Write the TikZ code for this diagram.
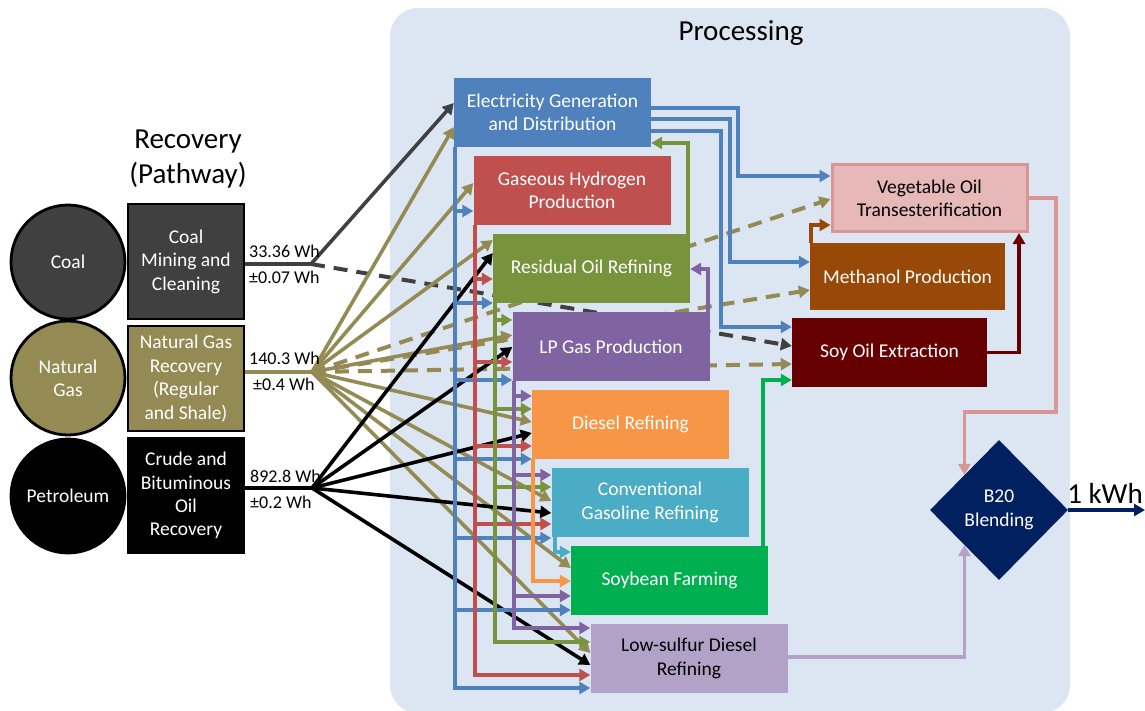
\documentclass[tikz,border=0pt]{standalone}
\usepackage{fontspec}
\setmainfont{Carlito}
\usetikzlibrary{arrows.meta,shapes.geometric}
\definecolor{bgc}{HTML}{DCE6F2}
\definecolor{coalc}{HTML}{404040}
\definecolor{ngc}{HTML}{948A54}
\definecolor{elc}{HTML}{4F81BD}
\definecolor{hyc}{HTML}{C0504D}
\definecolor{rec}{HTML}{77933C}
\definecolor{lpc}{HTML}{8064A2}
\definecolor{dsc}{HTML}{F79646}
\definecolor{cgc}{HTML}{4BACC6}
\definecolor{sfc}{HTML}{00B050}
\definecolor{lsc}{HTML}{B3A2C7}
\definecolor{vgc}{HTML}{E6B9B8}
\definecolor{vgb}{HTML}{D99694}
\definecolor{mec}{HTML}{984807}
\definecolor{soc}{HTML}{660000}
\definecolor{b2c}{HTML}{002060}
\newcommand\fbx{\fontsize{19.5}{23.4}\selectfont}
\newcommand\fttl{\fontsize{29}{34.5}\selectfont}
\newcommand\flab{\fontsize{18}{21}\selectfont}
\pgfdeclarelayer{back}
\pgfdeclarelayer{lines}
\pgfsetlayers{back,lines,main}
\begin{document}
\begin{tikzpicture}[x=1pt,y=-1pt,
 pbox/.style={minimum width=197pt,minimum height=69pt,inner sep=0pt,align=center,text=white,font=\fbx},
 rbox/.style={minimum width=195pt,inner sep=0pt,align=center,text=white,font=\fbx},
 lbox/.style={draw=black,line width=2.8pt,minimum width=116pt,inner sep=0pt,align=center,text=white,font=\fbx},
 src/.style={circle,draw=black,line width=2.8pt,minimum size=114pt,inner sep=0pt,align=center,text=white,font=\fbx},
 ar/.style={line width=3.6pt,-{Triangle[length=11pt,width=12pt]}},
 ln/.style={line width=3.6pt},
 dsh/.style={line width=4pt,dash pattern=on 14pt off 9pt,-{Triangle[length=11pt,width=12pt]}},
 lab/.style={font=\flab,anchor=west,inner sep=0pt},
]
\clip (0,0) rectangle (1145,710);
\useasboundingbox (0,0) rectangle (1145,710);
\begin{pgfonlayer}{back}
\fill[bgc,rounded corners=28pt] (390,8) rectangle (1070,713);
\end{pgfonlayer}

% titles
\node[font=\fttl,align=center] (rt) at (188,159) {Recovery\\(Pathway)};
\node[font=\fttl] (pt) at (741,33) {Processing};

% sources
\node[src,fill=coalc] (coal) at (68,262) {Coal};
\node[src,fill=ngc] (ng) at (68,378) {Natural\\Gas};
\node[src,fill=black] (pet) at (68,496) {Petroleum};
\node[lbox,fill=coalc,minimum height=115pt] (cmc) at (186,261.5) {Coal\\Mining and\\Cleaning};
\node[lbox,fill=ngc,minimum height=105pt] (ngr) at (186,378.5) {Natural Gas\\Recovery\\(Regular\\and Shale)};
\node[lbox,fill=black,minimum height=115pt] (cbo) at (186,495.5) {Crude and\\Bituminous\\Oil\\Recovery};

% labels
\node[lab] (l1) at (249,251) {33.36 Wh};
\node[lab] (l2) at (249,277) {±0.07 Wh};
\node[lab] (l3) at (249,358) {140.3 Wh};
\node[lab] (l4) at (253,384) {±0.4 Wh};
\node[lab] (l5) at (250,476) {892.8 Wh};
\node[lab] (l6) at (250,502) {±0.2 Wh};

% processing boxes
\node[pbox,fill=elc] (elec) at (552.5,112.5) {Electricity Generation\\and Distribution};
\node[pbox,fill=hyc] (hyd) at (572,190.5) {Gaseous Hydrogen\\Production};
\node[pbox,fill=rec] (res) at (591.5,268.5) {Residual Oil Refining};
\node[pbox,fill=lpc] (lpg) at (611,346.5) {LP Gas Production};
\node[pbox,fill=dsc] (dsl) at (630.5,424.5) {Diesel Refining};
\node[pbox,fill=cgc] (cgr) at (650,502.5) {Conventional\\Gasoline Refining};
\node[pbox,fill=sfc] (soy) at (669.5,580.5) {Soybean Farming};
\node[pbox,fill=lsc,text=black] (lsd) at (689,658.5) {Low-sulfur Diesel\\Refining};

\node[rbox,fill=vgc,draw=vgb,line width=3pt,minimum height=67pt,text=black] (veg) at (929.5,198) {Vegetable Oil\\Transesterification};
\node[rbox,fill=mec,minimum height=67pt] (met) at (907.5,276.5) {Methanol Production};
\node[rbox,fill=soc,minimum height=69pt] (soe) at (889.5,352.5) {Soy Oil Extraction};
\node[diamond,aspect=1,fill=b2c,minimum width=138pt,minimum height=140pt,inner sep=0pt,align=center,text=white,font=\fbx] (dia) at (999,510) {B20\\Blending};
\node[font=\fttl] (kwh) at (1105,493) {1 kWh};
\coordinate (out) at (1145,510);

\coordinate (C) at (311,264);
\coordinate (N) at (312,372);
\coordinate (P) at (312,488);

\begin{pgfonlayer}{lines}
% coal
\draw[ln,coalc] (cmc.east |- C) -- (C);
\draw[ar,coalc] (C) -- (elec.west |- 0,103);
\draw[dsh,coalc] (C) -- (soe.west |- 0,346);
% natural gas
\draw[ln,ngc] (ngr.east |- N) -- (N);
\foreach \n/\y in {elec/127,hyd/183,res/240,lpg/335,dsl/422,cgr/501,soy/568,lsd/653}
  \draw[ar,ngc] (N) -- (\n.west |- 0,\y);
\foreach \n/\y in {veg/199,met/290,soe/364}
  \draw[dsh,ngc] (N) -- (\n.west |- 0,\y);
% petroleum
\draw[ln,black] (cbo.east |- P) -- (P);
\foreach \n/\y in {res/253,lpg/347,dsl/433,cgr/513,lsd/665}
  \draw[ar,black] (P) -- (\n.west |- 0,\y);

% electricity bus
\draw[ar,elc] (elec.south -| 455,0) |- (lsd.west |- 0,688);
\foreach \n/\y in {hyd/211,res/303,lpg/380,dsl/459,cgr/538,soy/610}
  \draw[ar,elc] (455,\y) -- (\n.west |- 0,\y);
\draw[ar,elc] (elec.east |- 0,108) -| (738,176) -- (veg.west |- 0,176);
\draw[ar,elc] (elec.east |- 0,119) -| (730,262) -- (met.west |- 0,262);
\draw[ar,elc] (elec.east |- 0,131) -| (721,327) -- (soe.west |- 0,327);
% hydrogen bus
\draw[ar,hyc] (hyd.south -| 475,0) |- (lsd.west |- 0,675);
\foreach \n/\y in {res/279,lpg/362,dsl/446,cgr/524}
  \draw[ar,hyc] (475,\y) -- (\n.west |- 0,\y);
% residual oil bus
\draw[ar,rec] (res.south -| 495,0) |- (lsd.west |- 0,642);
\foreach \n/\y in {lpg/320,dsl/409,cgr/487}
  \draw[ar,rec] (495,\y) -- (\n.west |- 0,\y);
\draw[ar,rec] (res.north -| 688,0) |- (elec.east |- 0,143);
% LP gas bus
\draw[ar,lpc] (lpg.south -| 514,0) |- (lsd.west |- 0,628);
\foreach \n/\y in {dsl/396,cgr/475,soy/596}
  \draw[ar,lpc] (514,\y) -- (\n.west |- 0,\y);
\draw[ar,lpc] (lpg.north -| 708,0) |- (res.east |- 0,269);
% diesel, gasoline, soybean
\draw[ar,dsc] (dsl.south -| 533,0) |- (soy.west |- 0,581);
\draw[ar,cgc] (cgr.south -| 555,0) |- (soy.west |- 0,552);
\draw[ar,sfc] (soy.north -| 763,0) |- (soe.west |- 0,380);
% right side
\draw[ar,mec] (met.north -| 811,0) |- (veg.west |- 0,225);
\draw[ar,soc] (soe.east) -| (veg.south -| 1019,0);
\draw[ar,vgb] (veg.east) -| (1056,412) -| (dia.north west);
\draw[ar,lsc] (lsd.east |- 0,657) -| (dia.south west);
\draw[ar,b2c] (dia.east) -- (out);
\end{pgfonlayer}
\end{tikzpicture}
\end{document}
